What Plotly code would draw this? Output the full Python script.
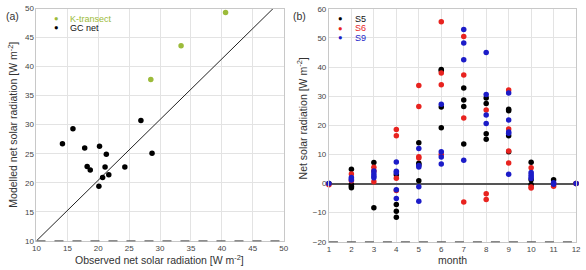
import plotly.graph_objects as go

# ---- Panel (a) data ----
gc_obs = [14.2, 17.8, 20.2, 21.3, 28.7, 18.2, 18.7, 21.1, 24.3, 20.7, 21.7, 20.1, 15.9, 26.9]
gc_mod = [26.7, 26.0, 26.3, 24.9, 25.1, 22.8, 22.2, 22.7, 22.7, 20.9, 21.4, 19.4, 29.3, 30.7]
kt_obs = [28.5, 33.4, 40.6]
kt_mod = [37.8, 43.6, 49.3]
ref_line_x = [10, 48.3]
ref_line_y = [10, 50]

# ---- Panel (b) data: month -> values ----
s5 = {1: [0], 2: [4.9, -0.3, -0.9, -1.4], 3: [7.2, -8.3], 4: [3.0, -7.2, -9.5, -11.6],
      5: [14.0, 7.0, 6.5, 1.0], 6: [39.2, 38.7, 26.3, 19.2], 7: [32.8, 28.7, 26.5, 13.6],
      8: [29.4, 27.5, 17.1, 15.2], 9: [25.5, 25.0, 16.4, 10.9], 10: [7.3, 1.3, -0.3],
      11: [1.3], 12: [0]}
s6 = {1: [-0.4], 2: [3.3, 1.0], 3: [5.6, 4.3, 0.6], 4: [18.6, 16.4, 1.8, -2.4],
      5: [33.7, 26.5, 9.2, 8.8], 6: [55.6, 38.0, 33.9, 10.0], 7: [50.5, 37.3, 22.5, -6.3],
      8: [25.3, -3.5, -5.5], 9: [32.1, 18.7, 11.2, 7.1], 10: [5.4, -1.2, -1.5],
      11: [-0.9, 0.0], 12: [0]}
s9 = {1: [0], 2: [2.1, 1.6, 1.2], 3: [4.3, 3.4, 2.6, 2.0], 4: [7.4, 4.2, 3.7, -2.1, -5.1],
      5: [12.0, 6.2, 5.7, -1.1, -6.1], 6: [27.2, 10.9, 9.1, 6.7], 7: [52.9, 48.3, 42.5, 8.0],
      8: [45.0, 30.6, 23.5, 20.6], 9: [31.1, 21.8, 17.7, 17.3, 3.2], 10: [3.8, 3.0, 2.3, 1.7],
      11: [0.3, -0.2], 12: [0]}
months = list(range(1, 13))

C_K = "#9cbb3a"
C_S5 = "#000000"
C_S6 = "#e8231f"
C_S9 = "#1c1cc8"

def flat(d):
    xs, ys = [], []
    for m in months:
        for v in d.get(m, []):
            xs.append(m)
            ys.append(v)
    return xs, ys

fig = go.Figure()
MS = 5.5
fig.add_trace(go.Scatter(x=ref_line_x, y=ref_line_y, mode="lines",
                         line=dict(color="#222", width=1), xaxis="x", yaxis="y"))
fig.add_trace(go.Scatter(x=gc_obs, y=gc_mod, mode="markers",
                         marker=dict(color=C_S5, size=MS), xaxis="x", yaxis="y"))
fig.add_trace(go.Scatter(x=kt_obs, y=kt_mod, mode="markers",
                         marker=dict(color=C_K, size=MS), xaxis="x", yaxis="y"))
for d, c in [(s5, C_S5), (s6, C_S6), (s9, C_S9)]:
    xs, ys = flat(d)
    fig.add_trace(go.Scatter(x=xs, y=ys, mode="markers", cliponaxis=False,
                             marker=dict(color=c, size=MS), xaxis="x2", yaxis="y2"))

FONT = "Liberation Sans, Arial, sans-serif"
tickfont = dict(family=FONT, size=8, color="#444")
axcommon = dict(showgrid=True, gridcolor="#e3e3e3", gridwidth=1, showline=True,
                linecolor="#c8c8c8", linewidth=1, mirror=True, ticks="",
                tickfont=tickfont, zeroline=False, fixedrange=True)

fig.update_layout(
    width=586, height=270, margin=dict(l=0, r=0, t=0, b=0),
    paper_bgcolor="white", plot_bgcolor="white", showlegend=False,
    xaxis=dict(domain=[33/586, 284/586], range=[10, 50], dtick=5, anchor="y", **axcommon),
    yaxis=dict(domain=[25/270, 265.3/270], range=[10, 50], dtick=5, anchor="x", **axcommon),
    xaxis2=dict(domain=[330/586, 581/586], range=[1, 12], dtick=1, anchor="y2", **axcommon),
    yaxis2=dict(domain=[24/270, 265/270], range=[-20, 60], dtick=10, anchor="x2",
                **{**axcommon, "zeroline": True, "zerolinecolor": "#555", "zerolinewidth": 1.5}),
)

# dashed bottom lines
for xr, yr in [("x domain", "y domain"), ("x2 domain", "y2 domain")]:
    fig.add_shape(type="line", xref=xr, yref=yr, x0=0, x1=1, y0=0, y1=0,
                  line=dict(color="#555", width=1, dash="dash"))

tfont = dict(family=FONT, size=10.5, color="#333")
ann = [
    dict(text="(a)", x=1/586, y=1-12/270, xanchor="left", yanchor="middle"),
    dict(text="(b)", x=292/586, y=1-12/270, xanchor="left", yanchor="middle"),
    dict(text="Observed net solar radiation [W m<sup>-2</sup>]", x=158/586, y=1-264/270,
         xanchor="center", yanchor="middle"),
    dict(text="month", x=455/586, y=1-265/270, xanchor="center", yanchor="middle"),
    dict(text="Modelled net solar radiation [W m<sup>-2</sup>]", x=9/586, y=1-125/270,
         xanchor="center", yanchor="middle", textangle=-90),
    dict(text="Net solar radiation [W m<sup>-2</sup>]", x=302/586, y=1-118/270,
         xanchor="center", yanchor="middle", textangle=-90),
]
for a in ann:
    fig.add_annotation(xref="paper", yref="paper", showarrow=False, font=tfont,
                       borderpad=0, **a)

# legends
leg = [
    (53, 15, C_K, "K-transect"),
    (53, 24.5, C_S5, "GC net"),
    (342, 15, C_S5, "S5"),
    (342, 25, C_S6, "S6"),
    (342, 35, C_S9, "S9"),
]
for px, py, c, t in leg:
    fig.add_annotation(xref="paper", yref="paper", showarrow=False, x=px/586, y=1-py/270,
                       xanchor="center", yanchor="middle", text="●", borderpad=0,
                       font=dict(family=FONT, size=7.5, color=c))
    fig.add_annotation(xref="paper", yref="paper", showarrow=False, x=(px+13)/586, y=1-py/270,
                       xanchor="left", yanchor="middle", text=t, borderpad=0,
                       font=dict(family=FONT, size=9, color=c if c != C_S5 else "#111"))

fig.write_html("out.html")
